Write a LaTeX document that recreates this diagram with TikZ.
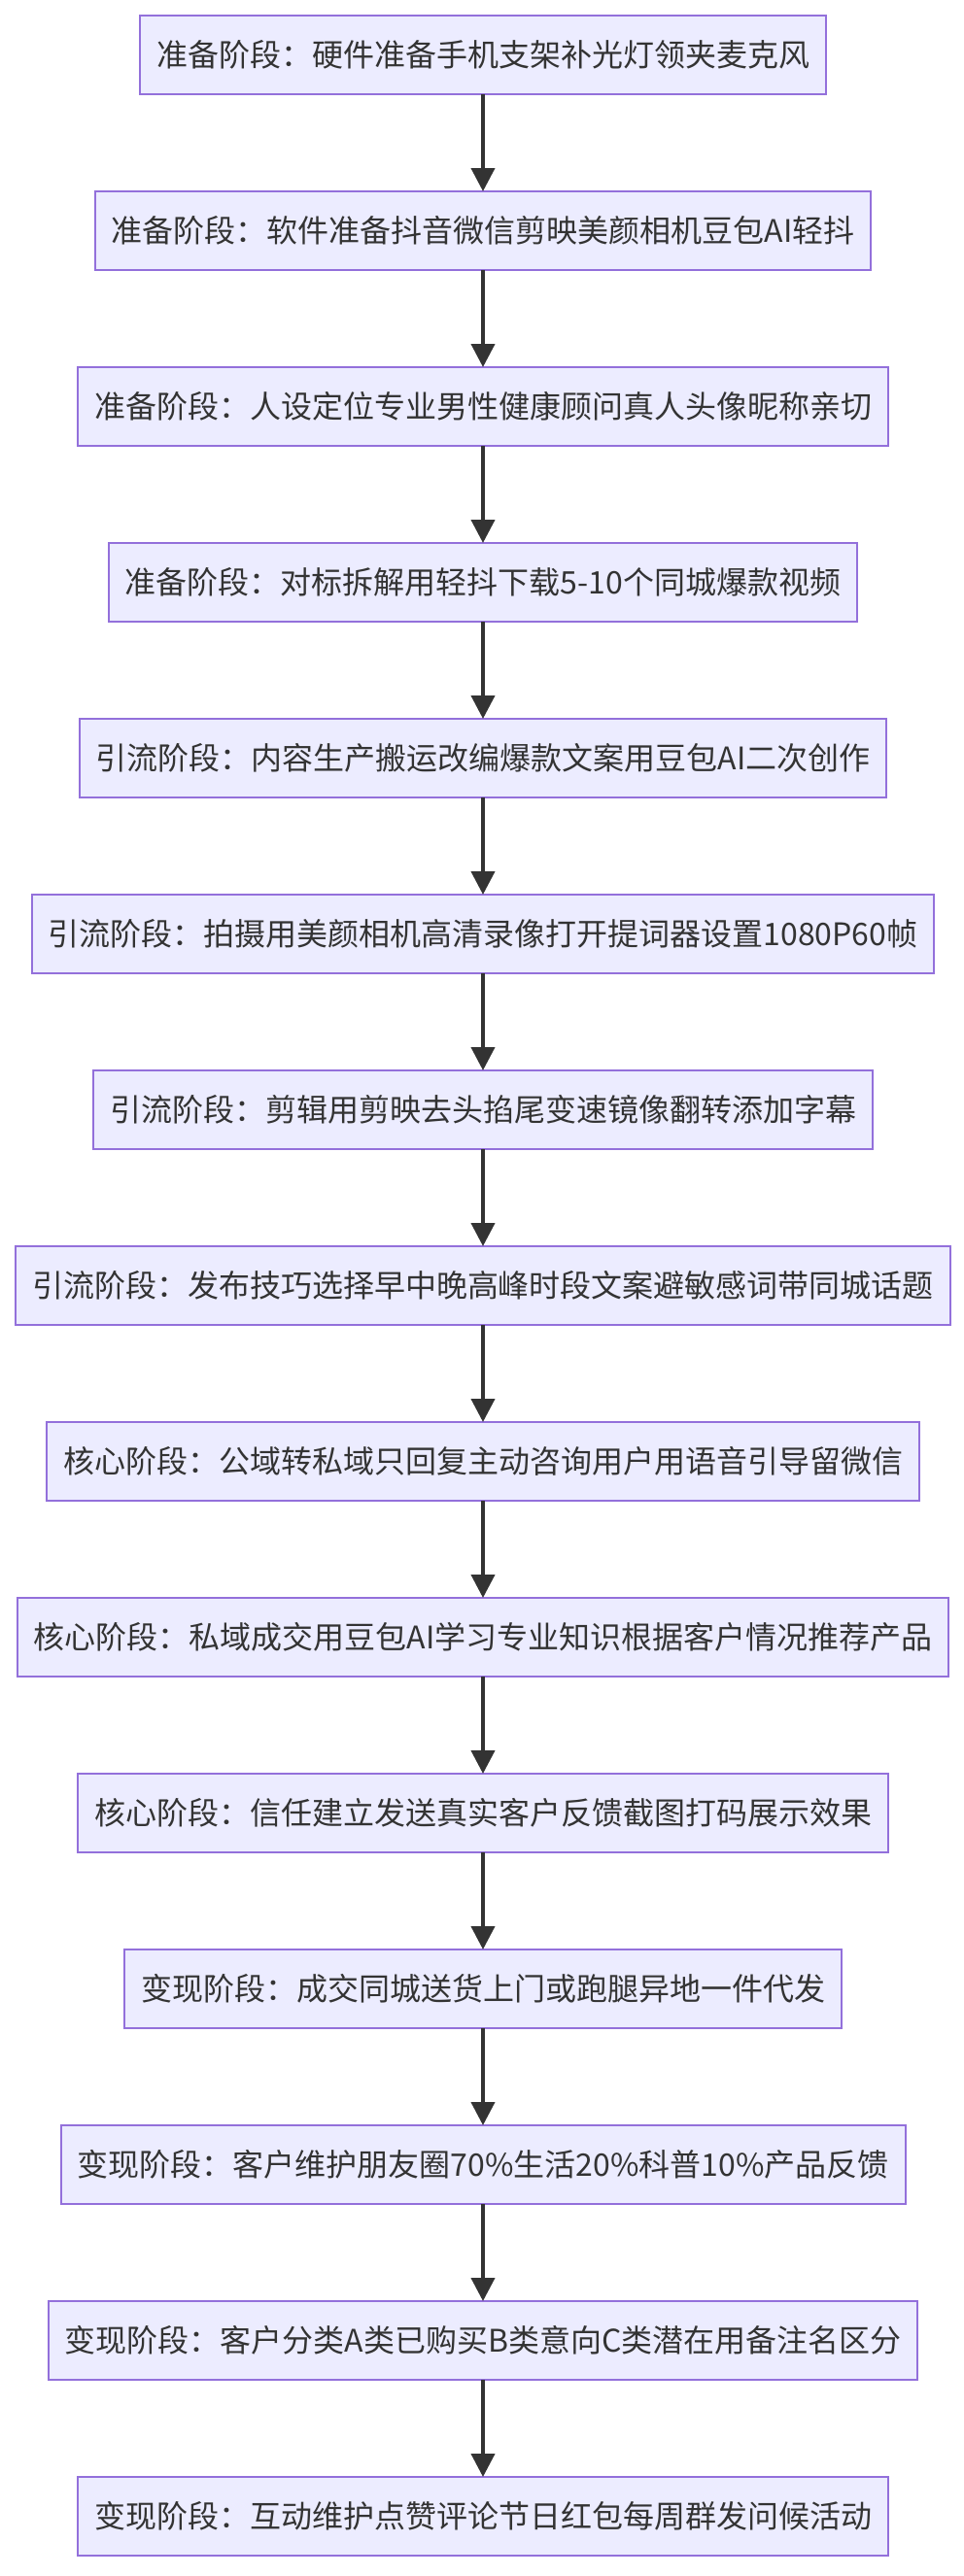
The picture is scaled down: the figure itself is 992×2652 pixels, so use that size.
\documentclass[tikz,border=0pt]{standalone}
\usepackage{fontspec}
\setmainfont{Noto Sans CJK SC}
\usepackage{xcolor}
\usepackage{tikz}
\usetikzlibrary{arrows.meta,positioning}
\definecolor{boxfill}{HTML}{ECECFF}
\definecolor{boxline}{HTML}{9370DB}
\definecolor{inkgray}{HTML}{333333}
\tikzset{
  stagebox/.style={rectangle, draw=boxline, fill=boxfill, line width=2pt, align=center,
                   inner xsep=17pt, inner ysep=0pt, outer sep=0pt, minimum height=81pt,
                   text=inkgray, font=\fontsize{32}{38}\selectfont},
  flowarr/.style={-{Triangle[length=24pt, width=24pt]}, line width=4pt, draw=inkgray},
}

\begin{document}
\begin{tikzpicture}[x=1pt, y=1pt, node distance=100pt]
    \useasboundingbox (0,0) rectangle (992,-2652);
    \node[stagebox] (hw) at (497,-56.5) {准备阶段：硬件准备手机支架补光灯领夹麦克风};
    \node[stagebox, below=of hw]      (sw)       {准备阶段：软件准备抖音微信剪映美颜相机豆包AI轻抖};
    \node[stagebox, below=of sw]      (role)     {准备阶段：人设定位专业男性健康顾问真人头像昵称亲切};
    \node[stagebox, below=of role]    (bench)    {准备阶段：对标拆解用轻抖下载5-10个同城爆款视频};
    \node[stagebox, below=of bench]   (content)  {引流阶段：内容生产搬运改编爆款文案用豆包AI二次创作};
    \node[stagebox, below=of content] (shoot)    {引流阶段：拍摄用美颜相机高清录像打开提词器设置1080P60帧};
    \node[stagebox, below=of shoot]   (edit)     {引流阶段：剪辑用剪映去头掐尾变速镜像翻转添加字幕};
    \node[stagebox, below=of edit]    (post)     {引流阶段：发布技巧选择早中晚高峰时段文案避敏感词带同城话题};
    \node[stagebox, below=of post]    (private)  {核心阶段：公域转私域只回复主动咨询用户用语音引导留微信};
    \node[stagebox, below=of private] (deal)     {核心阶段：私域成交用豆包AI学习专业知识根据客户情况推荐产品};
    \node[stagebox, below=of deal]    (trust)    {核心阶段：信任建立发送真实客户反馈截图打码展示效果};
    \node[stagebox, below=of trust]   (ship)     {变现阶段：成交同城送货上门或跑腿异地一件代发};
    \node[stagebox, below=of ship]    (care)     {变现阶段：客户维护朋友圈70\%生活20\%科普10\%产品反馈};
    \node[stagebox, below=of care]    (tag)      {变现阶段：客户分类A类已购买B类意向C类潜在用备注名区分};
    \node[stagebox, below=of tag]     (interact) {变现阶段：互动维护点赞评论节日红包每周群发问候活动};
    % one straight chain, top to bottom
    \draw[flowarr] (hw)--(sw);
    \draw[flowarr] (sw)--(role);
    \draw[flowarr] (role)--(bench);
    \draw[flowarr] (bench)--(content);
    \draw[flowarr] (content)--(shoot);
    \draw[flowarr] (shoot)--(edit);
    \draw[flowarr] (edit)--(post);
    \draw[flowarr] (post)--(private);
    \draw[flowarr] (private)--(deal);
    \draw[flowarr] (deal)--(trust);
    \draw[flowarr] (trust)--(ship);
    \draw[flowarr] (ship)--(care);
    \draw[flowarr] (care)--(tag);
    \draw[flowarr] (tag)--(interact);
\end{tikzpicture}
\end{document}
